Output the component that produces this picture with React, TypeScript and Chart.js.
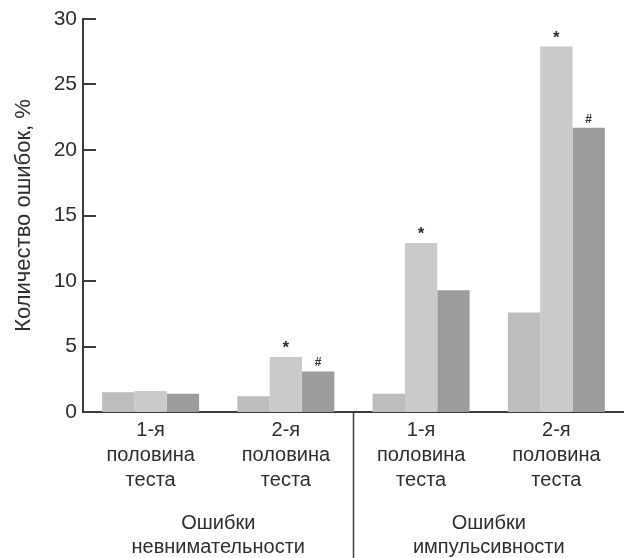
import React, { useEffect, useRef } from "react";
import { Chart, registerables } from "chart.js";

Chart.register(...registerables);

// Test halves shown on the x axis (multi-line labels)
const categories: string[][] = [
  ["1-я", "половина", "теста"],
  ["2-я", "половина", "теста"],
  ["1-я", "половина", "теста"],
  ["2-я", "половина", "теста"],
];

// Error rates, % — three bars per test half
const seriesA = [1.5, 1.2, 1.4, 7.6];
const seriesB = [1.6, 4.2, 12.9, 27.9];
const seriesC = [1.4, 3.1, 9.3, 21.7];

// Significance marks printed above the bars
const marksB = ["", "*", "*", "*"];
const marksC = ["", "#", "", "#"];

// Error type captions, each covering two categories
const groupTitles: string[][] = [
  ["Ошибки", "невнимательности"],
  ["Ошибки", "импульсивности"],
];

const yTickValues = [0, 5, 10, 15, 20, 25, 30];
const yTitle = "Количество ошибок, %";

const FONT = "'Liberation Sans', Arial, Helvetica, sans-serif";
const INK = "#2e2e2e";
const AXIS = "#3c3c3c";

const decorPlugin = {
  id: "decor",
  afterDraw(chart: any) {
    const { ctx, chartArea, scales } = chart;
    const x = scales.x;
    const y = scales.y;
    ctx.save();

    // tick marks pointing into the plot
    ctx.strokeStyle = AXIS;
    ctx.lineWidth = 2;
    yTickValues.forEach((v) => {
      if (v === 0) return;
      const py = Math.round(y.getPixelForValue(v));
      ctx.beginPath();
      ctx.moveTo(chartArea.left, py);
      ctx.lineTo(chartArea.left + 13, py);
      ctx.stroke();
    });

    // divider between the two error types
    const sepX = x.getPixelForValue(1.5);
    ctx.lineWidth = 1.5;
    ctx.beginPath();
    ctx.moveTo(sepX, chartArea.bottom);
    ctx.lineTo(sepX, chart.height);
    ctx.stroke();

    // group captions under the tick labels
    ctx.fillStyle = INK;
    ctx.font = `20px ${FONT}`;
    ctx.textAlign = "center";
    ctx.textBaseline = "middle";
    groupTitles.forEach((lines, g) => {
      const cx = (x.getPixelForValue(g * 2) + x.getPixelForValue(g * 2 + 1)) / 2;
      lines.forEach((t, i) => {
        ctx.fillText(t, cx, chartArea.bottom + 111 + i * 24);
      });
    });

    // significance marks
    const drawMarks = (dsIndex: number, marks: string[], size: number, lift: number) => {
      const meta = chart.getDatasetMeta(dsIndex);
      ctx.font = `bold ${size}px ${FONT}`;
      ctx.textBaseline = "alphabetic";
      marks.forEach((m, i) => {
        if (!m) return;
        const el = meta.data[i];
        ctx.fillText(m, el.x, el.y - lift);
      });
    };
    drawMarks(1, marksB, 17, 4);
    drawMarks(2, marksC, 12, 5);

    ctx.restore();
  },
};

export default function App() {
  const canvasRef = useRef<HTMLCanvasElement | null>(null);

  useEffect(() => {
    const canvas = canvasRef.current;
    if (!canvas) return;
    const chart = new Chart(canvas, {
      type: "bar",
      data: {
        labels: categories as any,
        datasets: [
          { data: seriesA, backgroundColor: "#bdbdbd" },
          { data: seriesB, backgroundColor: "#cacaca" },
          { data: seriesC, backgroundColor: "#9c9c9c" },
        ],
      },
      options: {
        animation: false,
        responsive: false,
        devicePixelRatio: 1,
        layout: { padding: { top: 19, right: 0, bottom: 0, left: 0 } },
        plugins: {
          legend: { display: false },
          tooltip: { enabled: false },
        },
        datasets: {
          bar: { categoryPercentage: 0.717, barPercentage: 1.0, borderWidth: 0 },
        },
        scales: {
          x: {
            grid: { display: false, drawTicks: false },
            border: { display: true, color: AXIS, width: 2 },
            ticks: {
              color: INK,
              padding: 6,
              font: { family: FONT, size: 20, lineHeight: 1.25 },
              maxRotation: 0,
              autoSkip: false,
            },
            afterFit(scale: any) {
              scale.height = 146;
            },
          },
          y: {
            min: 0,
            max: 30,
            grid: { display: false, drawTicks: false },
            border: { display: true, color: AXIS, width: 2 },
            ticks: {
              color: INK,
              padding: 6,
              font: { family: FONT, size: 21 },
            },
            afterBuildTicks(scale: any) {
              scale.ticks = yTickValues.map((v) => ({ value: v }));
            },
            title: {
              display: true,
              text: yTitle,
              color: INK,
              font: { family: FONT, size: 22 },
              padding: { top: 11, bottom: 0 },
            },
            afterFit(scale: any) {
              scale.width = 83;
            },
          },
        },
      },
      plugins: [decorPlugin],
    });
    return () => chart.destroy();
  }, []);

  return (
    <div style={{ position: "fixed", left: 0, top: 0, width: 624, height: 558, background: "#ffffff" }}>
      <canvas ref={canvasRef} width={624} height={558} />
    </div>
  );
}
